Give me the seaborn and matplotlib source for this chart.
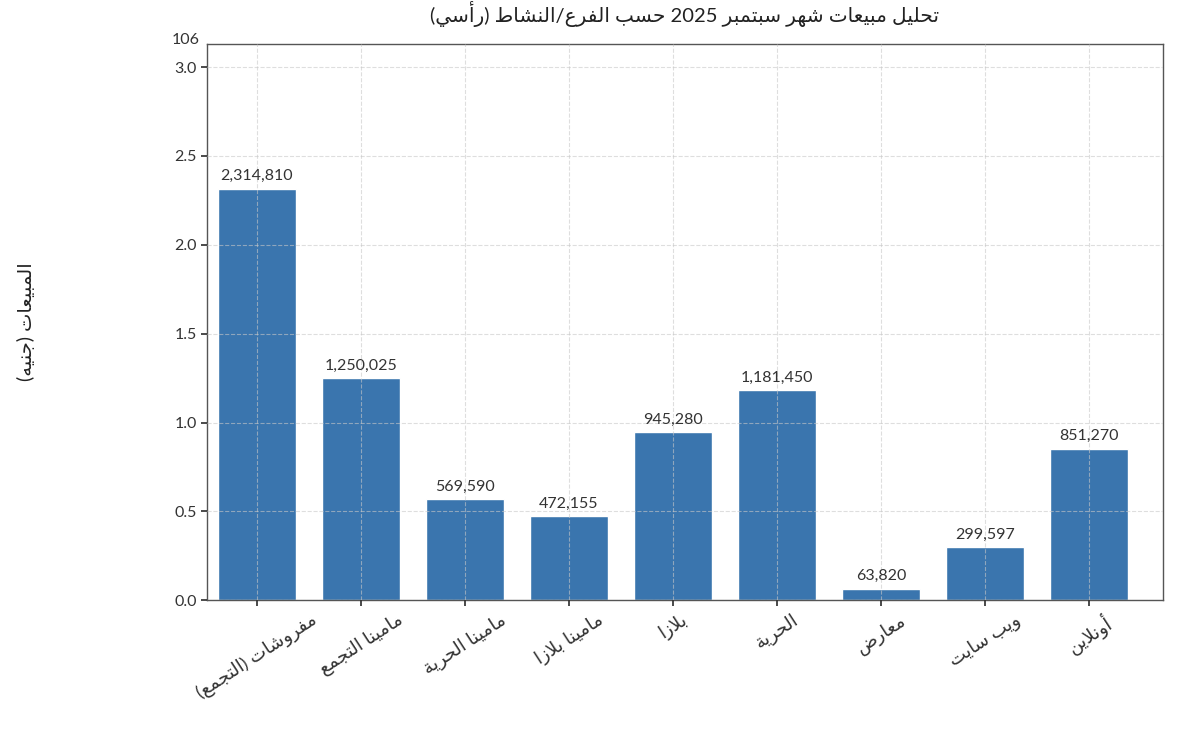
import re
import matplotlib
matplotlib.use("Agg")
import matplotlib.pyplot as plt
import matplotlib.ticker as mticker
import seaborn as sns

# Data (logical Arabic order)
title_text = "تحليل مبيعات شهر سبتمبر 2025 حسب الفرع/النشاط (رأسي)"
ylabel_text = "المبيعات (جنيه)"
categories = ["مفروشات (التجمع)", "مامينا التجمع", "مامينا الحرية", "مامينا بلازا",
              "بلازا", "الحرية", "معارض", "ويب سايت", "أونلاين"]
sales = [2314810, 1250025, 569590, 472155, 945280, 1181450, 63820, 299597, 851270]

# Arabic presentation forms: isolated, final, initial, medial
FORMS = {
    "ا": ("\ufe8d", "\ufe8e", None, None),
    "أ": ("\ufe83", "\ufe84", None, None),
    "ب": ("\ufe8f", "\ufe90", "\ufe91", "\ufe92"),
    "ة": ("\ufe93", "\ufe94", None, None),
    "ت": ("\ufe95", "\ufe96", "\ufe97", "\ufe98"),
    "ج": ("\ufe9d", "\ufe9e", "\ufe9f", "\ufea0"),
    "ح": ("\ufea1", "\ufea2", "\ufea3", "\ufea4"),
    "ر": ("\ufead", "\ufeae", None, None),
    "ز": ("\ufeaf", "\ufeb0", None, None),
    "س": ("\ufeb1", "\ufeb2", "\ufeb3", "\ufeb4"),
    "ش": ("\ufeb5", "\ufeb6", "\ufeb7", "\ufeb8"),
    "ض": ("\ufebd", "\ufebe", "\ufebf", "\ufec0"),
    "ط": ("\ufec1", "\ufec2", "\ufec3", "\ufec4"),
    "ع": ("\ufec9", "\ufeca", "\ufecb", "\ufecc"),
    "ف": ("\ufed1", "\ufed2", "\ufed3", "\ufed4"),
    "ل": ("\ufedd", "\ufede", "\ufedf", "\ufee0"),
    "م": ("\ufee1", "\ufee2", "\ufee3", "\ufee4"),
    "ن": ("\ufee5", "\ufee6", "\ufee7", "\ufee8"),
    "ه": ("\ufee9", "\ufeea", "\ufeeb", "\ufeec"),
    "و": ("\ufeed", "\ufeee", None, None),
    "ي": ("\ufef1", "\ufef2", "\ufef3", "\ufef4"),
}
LAM_ALEF = {"ا": ("\ufefb", "\ufefc"), "أ": ("\ufef7", "\ufef8")}


def ar(text):
    """Shape Arabic letters and put the string in visual (left-to-right) order."""
    out = []
    prev_joins = False
    i = 0
    while i < len(text):
        c = text[i]
        nxt = text[i + 1] if i + 1 < len(text) else ""
        if c not in FORMS:
            out.append(c)
            prev_joins = False
            i += 1
            continue
        if c == "ل" and nxt in LAM_ALEF:
            iso, fin = LAM_ALEF[nxt]
            out.append(fin if prev_joins else iso)
            prev_joins = False
            i += 2
            continue
        iso, fin, ini, med = FORMS[c]
        joins_next = ini is not None and nxt in FORMS
        if prev_joins and joins_next:
            g = med
        elif prev_joins:
            g = fin
        elif joins_next:
            g = ini
        else:
            g = iso
        out.append(g)
        prev_joins = joins_next
        i += 1
    vis = "".join(out)[::-1].translate(str.maketrans("()", ")("))
    return re.sub(r"[0-9A-Za-z,.]+", lambda m: m.group(0)[::-1], vis)


sns.set_theme(style="ticks")
plt.rcParams["font.family"] = ["Lato", "DejaVu Sans"]

fig = plt.figure(figsize=(11.83, 7.32), dpi=100)
ax = fig.add_axes([0.175, 0.180, 0.808, 0.760])

sns.barplot(x=[ar(c) for c in categories], y=sales, color="#3a75ae",
            saturation=1, width=0.75, ax=ax)

ax.bar_label(ax.containers[0], labels=[f"{v:,}" for v in sales],
             padding=4, fontsize=11.5, color="#333333")

ax.set_ylim(0, 3.13e6)
ax.set_xlim(-0.48, 8.71)
ax.yaxis.set_major_locator(mticker.MultipleLocator(0.5e6))
ax.yaxis.set_major_formatter(mticker.FuncFormatter(lambda v, pos: f"{v / 1e6:.1f}"))
ax.text(-0.008, 1.007, "106", transform=ax.transAxes, ha="right", va="center",
        fontsize=11.5, color="#333333")

ax.set_axisbelow(False)
ax.grid(True, linestyle="--", color="#c8c8c8", alpha=0.6, linewidth=0.8)

ax.set_title(ar(title_text), fontsize=14.5, pad=16, color="#222222")
ax.set_ylabel(ar(ylabel_text), fontsize=14, color="#222222")
ax.yaxis.set_label_coords(-0.18, 0.5)
ax.set_xlabel("")

ax.tick_params(axis="both", labelsize=11.5, colors="#333333", length=4)
plt.setp(ax.get_xticklabels(), rotation=33, ha="center", fontsize=13.2)
for s in ax.spines.values():
    s.set_color("#555555")
    s.set_linewidth(1.0)

fig.savefig("out.png", dpi=100)
